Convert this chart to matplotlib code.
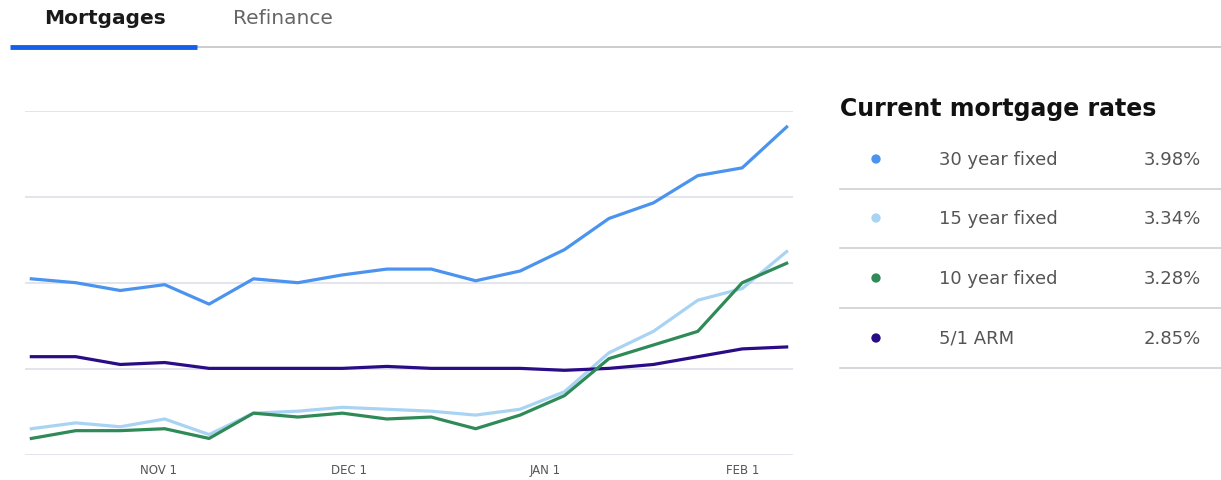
import datetime as dt
import matplotlib.pyplot as plt
import matplotlib.dates as mdates
from matplotlib.lines import Line2D

plt.rcParams['font.family'] = ['DejaVu Sans']

# weekly rate observations (percent)
start = dt.date(2021, 10, 12)
weeks = [start + dt.timedelta(days=7 * i) for i in range(18)]
fixed30 = [3.20, 3.18, 3.14, 3.17, 3.07, 3.20, 3.18, 3.22, 3.25,
           3.25, 3.19, 3.24, 3.35, 3.51, 3.59, 3.73, 3.77, 3.98]
fixed15 = [2.43, 2.46, 2.44, 2.48, 2.40, 2.51, 2.52, 2.54, 2.53,
           2.52, 2.50, 2.53, 2.62, 2.82, 2.93, 3.09, 3.15, 3.34]
fixed10 = [2.38, 2.42, 2.42, 2.43, 2.38, 2.51, 2.49, 2.51, 2.48,
           2.49, 2.43, 2.50, 2.60, 2.79, 2.86, 2.93, 3.18, 3.28]
arm51 = [2.80, 2.80, 2.76, 2.77, 2.74, 2.74, 2.74, 2.74, 2.75,
         2.74, 2.74, 2.74, 2.73, 2.74, 2.76, 2.80, 2.84, 2.85]

names = ['30 year fixed', '15 year fixed', '10 year fixed', '5/1 ARM']
current = ['3.98%', '3.34%', '3.28%', '2.85%']
colors = ['#4a93ee', '#a9d3f3', '#2f8a58', '#2a0c86']
tick_dates = [dt.date(2021, 11, 1), dt.date(2021, 12, 1),
              dt.date(2022, 1, 1), dt.date(2022, 2, 1)]
tick_labels = ['NOV 1', 'DEC 1', 'JAN 1', 'FEB 1']
grid_vals = [2.295, 2.737, 3.179, 3.621, 4.062]

W, H = 1221, 481
fig = plt.figure(figsize=(W / 100, H / 100), dpi=100)
fig.patch.set_facecolor('white')

# chart
ax = fig.add_axes([25 / W, (H - 456) / H, 768 / W, 344 / H])
for y in grid_vals:
    ax.axhline(y, color='#e2e2ea', lw=1.3, zorder=0)
series = [fixed30, fixed15, fixed10, arm51]
order = [0, 1, 3, 2]
for i in order:
    ax.plot(weeks, series[i], color=colors[i], lw=2.3, zorder=2)
ax.set_xlim(start - dt.timedelta(days=1.3), weeks[-1] + dt.timedelta(days=1.0))
ax.set_ylim(grid_vals[0], grid_vals[-1])
ax.set_xticks([mdates.date2num(d) for d in tick_dates])
ax.set_xticklabels(tick_labels, fontsize=8.5, color='#555555')
ax.tick_params(axis='x', length=0, pad=6)
ax.set_yticks([])
for s in ax.spines.values():
    s.set_visible(False)

# overlay in pixel coordinates for tabs and side panel
ov = fig.add_axes([0, 0, 1, 1], zorder=-1)
ov.set_xlim(0, W)
ov.set_ylim(H, 0)
ov.axis('off')

ov.text(44, 19, 'Mortgages', fontsize=14.5, fontweight='bold', color='#1a1a1a', va='center')
ov.text(233, 19, 'Refinance', fontsize=14.5, color='#666666', va='center')
ov.add_line(Line2D([197, W], [48, 48], color='#c8c8cc', lw=1.3))
ov.add_line(Line2D([10, 197], [47.5, 47.5], color='#1560e8', lw=3.5, solid_capstyle='butt'))

ov.text(840, 109, 'Current mortgage rates', fontsize=17, fontweight='bold',
        color='#111111', va='center')
row_y = [160, 219, 279, 339]
for i in range(4):
    y = row_y[i]
    ov.scatter([876], [y], s=45, color=colors[i], edgecolors='none')
    ov.text(939, y, names[i], fontsize=13, color='#555555', va='center')
    ov.text(1201, y, current[i], fontsize=13, color='#555555', va='center', ha='right')
    ov.add_line(Line2D([840, W], [y + 30, y + 30], color='#d0d0d4', lw=1.2))

fig.savefig('out.png', dpi=100)
